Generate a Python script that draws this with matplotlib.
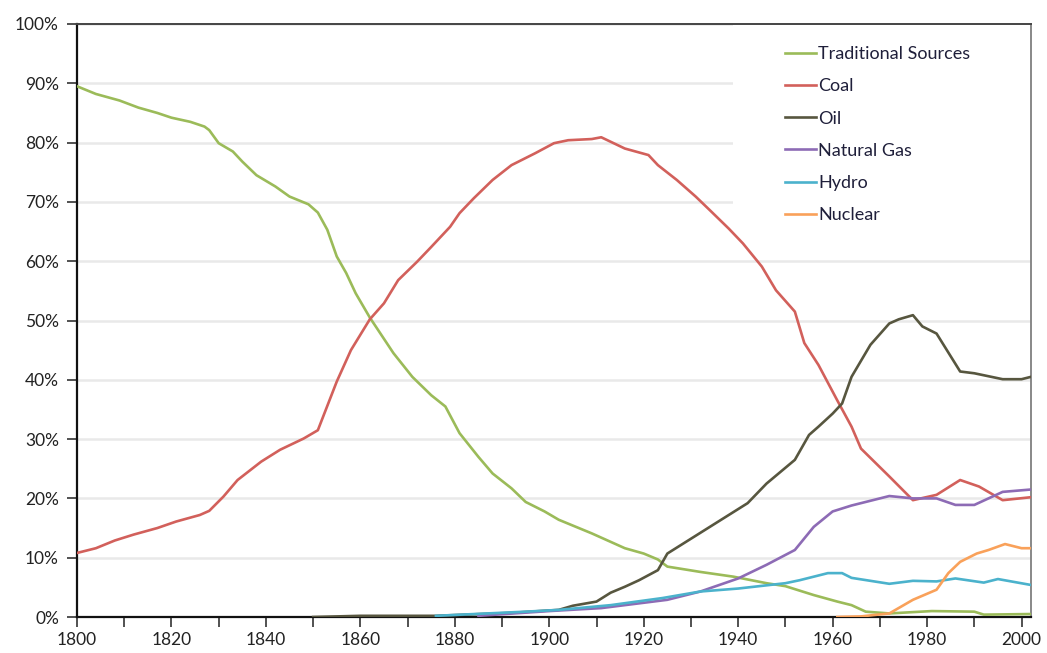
import matplotlib
matplotlib.use("Agg")
import matplotlib.pyplot as plt
from matplotlib.patches import Rectangle
from matplotlib.ticker import MultipleLocator, FuncFormatter

plt.rcParams['font.family'] = ['Lato', 'DejaVu Sans']

# share of world primary energy (%)
trad_years = [1800, 1804, 1809, 1813, 1817, 1820, 1824, 1827, 1828, 1830, 1833, 1835, 1838, 1842,
              1845, 1849, 1851, 1853, 1855, 1857, 1859, 1862, 1867, 1871, 1875, 1878, 1881, 1885,
              1888, 1892, 1895, 1899, 1902, 1909, 1916, 1920, 1923, 1925, 1932, 1939, 1946, 1950,
              1956, 1961, 1964, 1967, 1972, 1981, 1990, 1992, 2002]
trad_vals = [89.5, 88.2, 87.1, 85.9, 85.0, 84.2, 83.5, 82.7, 82.1, 79.9, 78.5, 76.8, 74.5, 72.6,
             70.9, 69.6, 68.2, 65.3, 60.8, 58.0, 54.6, 50.5, 44.5, 40.5, 37.4, 35.5, 31.0, 27.0,
             24.2, 21.7, 19.4, 17.8, 16.4, 14.1, 11.6, 10.7, 9.7, 8.5, 7.6, 6.8, 5.7, 5.2,
             3.7, 2.6, 2.0, 0.9, 0.6, 1.0, 0.9, 0.4, 0.5]

coal_years = [1800, 1804, 1808, 1812, 1817, 1821, 1826, 1828, 1831, 1834, 1839, 1843, 1848, 1851,
              1855, 1858, 1862, 1865, 1868, 1872, 1875, 1879, 1881, 1884, 1888, 1892, 1897, 1901,
              1904, 1909, 1911, 1916, 1921, 1923, 1927, 1931, 1934, 1938, 1941, 1945, 1948, 1952,
              1954, 1957, 1961, 1964, 1966, 1972, 1977, 1982, 1987, 1991, 1996, 2002]
coal_vals = [10.8, 11.6, 12.9, 13.9, 15.0, 16.1, 17.2, 17.9, 20.3, 23.1, 26.2, 28.2, 30.1, 31.5,
             39.7, 45.0, 50.2, 52.9, 56.8, 59.9, 62.4, 65.8, 68.1, 70.6, 73.7, 76.2, 78.2, 79.9,
             80.4, 80.6, 80.9, 79.0, 77.9, 76.2, 73.7, 70.9, 68.6, 65.5, 63.0, 59.1, 55.1, 51.5,
             46.2, 42.5, 36.5, 32.1, 28.4, 23.7, 19.7, 20.6, 23.1, 22.0, 19.7, 20.2]

oil_years = [1850, 1860, 1876, 1892, 1902, 1905, 1910, 1913, 1916, 1919, 1923, 1925, 1929, 1933,
             1938, 1942, 1946, 1952, 1955, 1957, 1960, 1962, 1964, 1968, 1972, 1974, 1977, 1979,
             1982, 1987, 1990, 1996, 2000, 2002]
oil_vals = [0.0, 0.2, 0.2, 0.7, 1.2, 1.9, 2.6, 4.1, 5.1, 6.2, 7.9, 10.7, 12.7, 14.7,
            17.2, 19.2, 22.5, 26.5, 30.7, 32.1, 34.3, 36.0, 40.5, 45.9, 49.5, 50.2, 50.9, 49.0,
            47.8, 41.4, 41.1, 40.1, 40.1, 40.5]

gas_years = [1885, 1900, 1911, 1925, 1932, 1940, 1946, 1952, 1956, 1960, 1964, 1972, 1977, 1982,
             1986, 1990, 1996, 2002]
gas_vals = [0.2, 1.0, 1.5, 2.9, 4.3, 6.5, 8.8, 11.3, 15.2, 17.8, 18.8, 20.4, 20.0, 20.0,
            18.9, 18.9, 21.1, 21.5]

hydro_years = [1876, 1895, 1902, 1913, 1924, 1932, 1940, 1950, 1953, 1959, 1962, 1964, 1972, 1977,
               1982, 1986, 1992, 1995, 2002]
hydro_vals = [0.2, 0.9, 1.2, 2.0, 3.2, 4.3, 4.8, 5.7, 6.2, 7.4, 7.4, 6.6, 5.6, 6.1,
              6.0, 6.5, 5.8, 6.4, 5.4]

nuc_years = [1961, 1966, 1972, 1977, 1982, 1984.5, 1987, 1990.5, 1993, 1996.5, 2000, 2002]
nuc_vals = [0.0, 0.1, 0.6, 2.9, 4.6, 7.4, 9.3, 10.7, 11.3, 12.3, 11.6, 11.6]

series = [
    ("Traditional Sources", trad_years, trad_vals, "#9bbb59"),
    ("Coal", coal_years, coal_vals, "#d2605b"),
    ("Oil", oil_years, oil_vals, "#57563f"),
    ("Natural Gas", gas_years, gas_vals, "#8d6bb5"),
    ("Hydro", hydro_years, hydro_vals, "#4bb2cc"),
    ("Nuclear", nuc_years, nuc_vals, "#f9a15a"),
]

fig = plt.figure(figsize=(10.47, 6.53), dpi=100)
ax = fig.add_axes([77 / 1047, 1 - 617 / 653, (1031 - 77) / 1047, (617 - 24) / 653])

for name, yrs, vals, col in series:
    ax.plot(yrs, vals, color=col, lw=1.9, label=name, zorder=3)

ax.set_xlim(1800, 2002)
ax.set_ylim(0, 100)
ax.xaxis.set_major_locator(MultipleLocator(20))
ax.xaxis.set_minor_locator(MultipleLocator(10))
ax.yaxis.set_major_locator(MultipleLocator(10))
ax.yaxis.set_major_formatter(FuncFormatter(lambda v, p: f"{int(v)}%"))

ax.grid(axis='y', color='#e9e9e9', lw=1.8, zorder=0)
ax.set_axisbelow(True)

ax.tick_params(axis='both', which='both', direction='out', length=7, width=1.2, color='#333333',
               labelsize=12.5, labelcolor='#222222')
ax.tick_params(axis='x', pad=4)
ax.tick_params(axis='y', pad=6)

ax.spines['left'].set_linewidth(1.6)
ax.spines['left'].set_color('#111111')
ax.spines['bottom'].set_linewidth(1.6)
ax.spines['bottom'].set_color('#111111')
ax.spines['top'].set_linewidth(1.4)
ax.spines['top'].set_color('#444444')
ax.spines['right'].set_linewidth(1.4)
ax.spines['right'].set_color('#888888')

# legend area hides the gridlines behind it
ax.add_patch(Rectangle((0.688, 0.655), 0.312, 0.345, transform=ax.transAxes,
                       facecolor='white', edgecolor='none', zorder=1))

leg = ax.legend(loc='upper left', bbox_to_anchor=(776 / 1047, 1 - 37 / 653),
                bbox_transform=fig.transFigure, frameon=False, fontsize=13,
                borderpad=0, handlelength=1.7, handletextpad=0.15, labelspacing=0.9)
for t in leg.get_texts():
    t.set_color('#1f1f3a')

fig.savefig("out.png", dpi=100)
